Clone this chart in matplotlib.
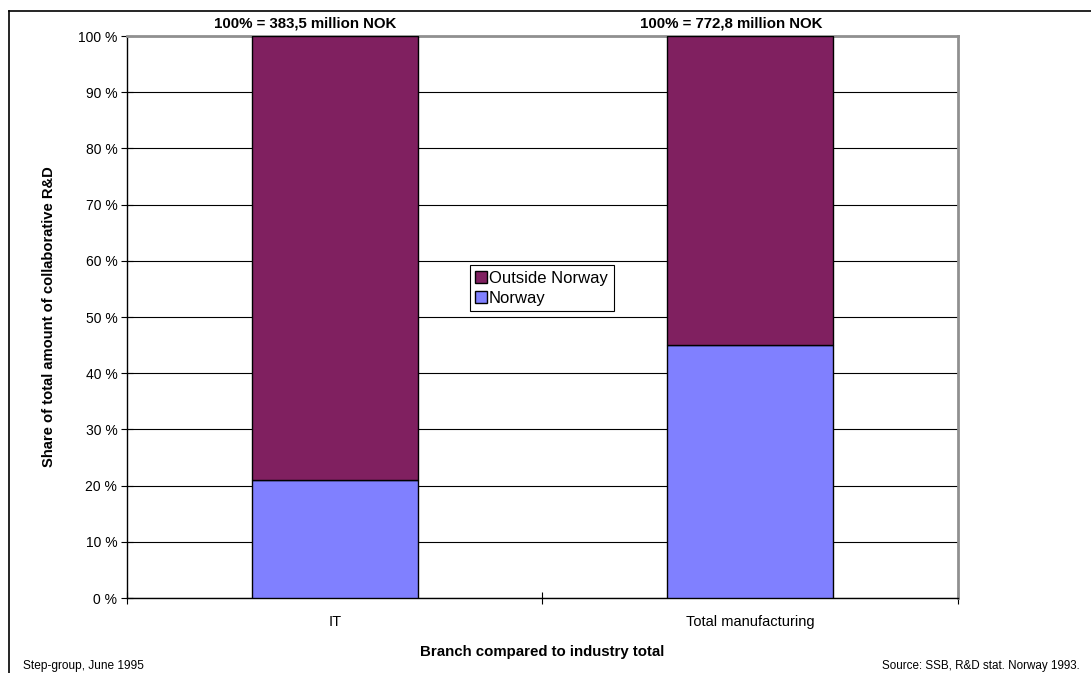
import numpy as np
import matplotlib
matplotlib.use("Agg")
import matplotlib.pyplot as plt
from matplotlib.ticker import FixedLocator, PercentFormatter
from matplotlib.lines import Line2D

plt.rcParams['font.family'] = ['Liberation Sans', 'DejaVu Sans']

# share of collaborative R&D (percent)
branches = ["IT", "Total manufacturing"]
norway = [21, 45]
outside_norway = [79, 55]
totals = ["100% = 383,5 million NOK", "100% = 772,8 million NOK"]

col_outside = "#802060"
col_norway = "#8080FF"

fig = plt.figure(figsize=(10.91, 6.73), dpi=100)
ax = fig.add_axes([0.1164, 0.1114, 0.7617, 0.8351])

x = np.arange(len(branches))
ax.bar(x, norway, width=0.4, color=col_norway, edgecolor="black",
       linewidth=1.0, label="Norway", zorder=3)
ax.bar(x, outside_norway, width=0.4, bottom=norway, color=col_outside,
       edgecolor="black", linewidth=1.0, label="Outside Norway", zorder=3)

ax.set_xlim(-0.5, len(branches) - 0.5)
ax.set_ylim(0, 100)
ax.set_yticks(np.arange(0, 101, 10))
ax.yaxis.set_major_formatter(PercentFormatter(decimals=0, symbol=" %"))
ax.set_xticks(x)
ax.set_xticklabels(branches, fontsize=10.5)
ax.xaxis.set_minor_locator(FixedLocator([-0.5, 0.5, 1.5]))
ax.tick_params(axis="x", which="major", length=0, pad=12)
ax.tick_params(axis="x", which="minor", direction="inout", length=9, width=0.8)
ax.tick_params(axis="y", direction="inout", length=8, width=0.8, labelsize=10, pad=3)

ax.grid(axis="y", color="black", linewidth=0.8, zorder=0)
for side in ("top", "right"):
    ax.spines[side].set_color("#909090")
    ax.spines[side].set_linewidth(2)
for side in ("left", "bottom"):
    ax.spines[side].set_color("black")
    ax.spines[side].set_linewidth(1)

ax.set_xlabel("Branch compared to industry total", fontsize=10.8,
              fontweight="bold", labelpad=12)
ax.set_ylabel("Share of total amount of collaborative R&D", fontsize=10.6,
              fontweight="bold", labelpad=16)

# totals above each bar
for xpos, txt in zip([-0.07, 0.955], totals):
    ax.text(xpos, 1.022, txt, transform=ax.get_xaxis_transform(),
            ha="center", va="center", fontsize=10.8, fontweight="bold")

handles = [
    Line2D([], [], marker="s", linestyle="none", markersize=8,
           markerfacecolor=col_outside, markeredgecolor="black"),
    Line2D([], [], marker="s", linestyle="none", markersize=8,
           markerfacecolor=col_norway, markeredgecolor="black"),
]
leg = ax.legend(handles, ["Outside Norway", "Norway"], loc="center",
                bbox_to_anchor=(0.4994, 0.5516), fontsize=12, frameon=True,
                fancybox=False, edgecolor="black", handlelength=0.6,
                handletextpad=0.15, borderpad=0.35, labelspacing=0.3,
                framealpha=1)
leg.get_frame().set_linewidth(0.8)
leg.set_zorder(5)

# outer frame
fig.add_artist(Line2D([9 / 1091, 9 / 1091], [0, 1 - 11 / 673],
                      transform=fig.transFigure, color="black", linewidth=1.2))
fig.add_artist(Line2D([9 / 1091, 1], [1 - 11 / 673, 1 - 11 / 673],
                      transform=fig.transFigure, color="black", linewidth=1.2))

fig.text(23 / 1091, 1 - 666 / 673, "Step-group, June 1995", fontsize=8.6,
         ha="left", va="center")
fig.text(1080 / 1091, 1 - 666 / 673, "Source: SSB, R&D stat. Norway 1993.",
         fontsize=8.4, ha="right", va="center")

fig.savefig("out.png", dpi=100)
